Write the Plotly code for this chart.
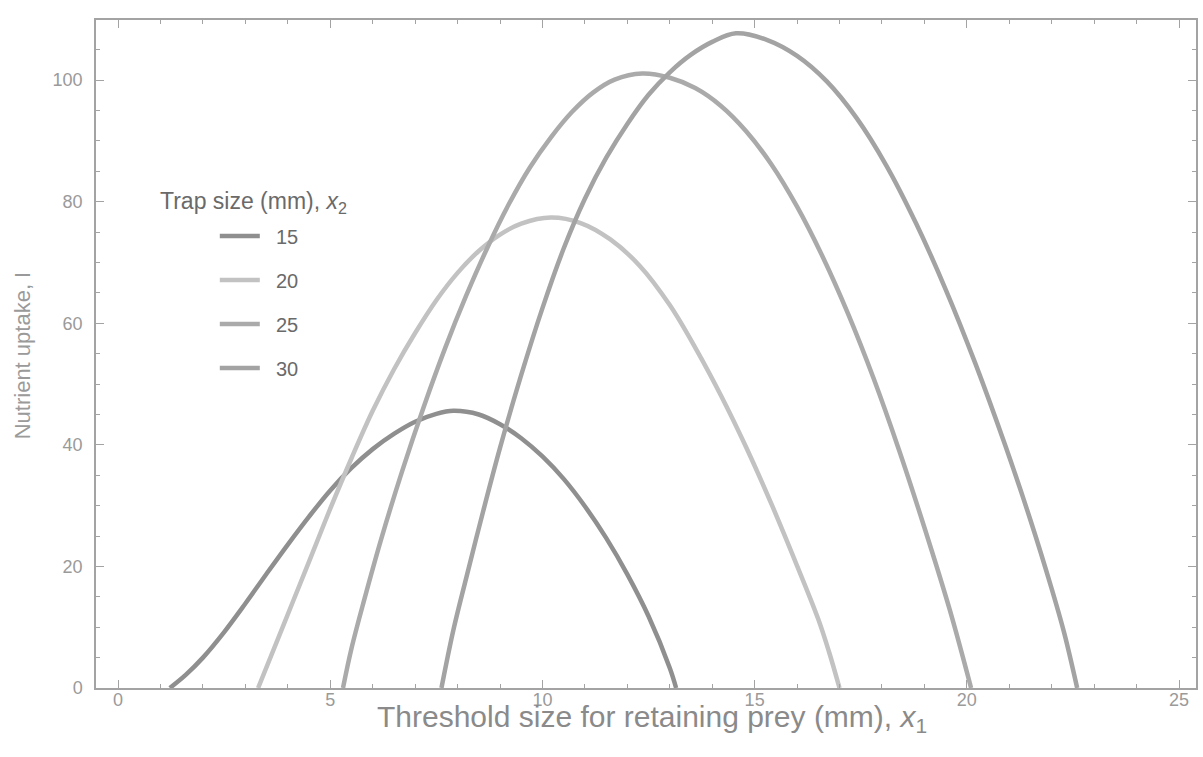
import plotly.graph_objects as go

# Threshold size x1 (mm) and nutrient uptake I, per trap size x2 (mm)
trap_sizes = ["15", "20", "25", "30"]

x15 = [1.22, 1.6, 2.0, 2.5, 3.0, 3.5, 4.0, 4.5, 5.0, 5.5, 6.0, 6.5, 7.0, 7.5, 7.9,
       8.5, 9.0, 9.5, 10.0, 10.5, 11.0, 11.5, 12.0, 12.5, 13.0, 13.15]
y15 = [0, 2.2, 5.0, 9.2, 13.9, 18.8, 23.6, 28.2, 32.5, 36.2, 39.3, 41.8, 43.8, 45.1, 45.6,
       45.0, 43.4, 41.1, 38.1, 34.4, 29.9, 24.7, 18.7, 11.8, 3.3, 0]

x20 = [3.3, 3.9, 4.5, 5.0, 5.5, 6.0, 6.5, 7.0, 7.5, 8.0, 8.5, 9.0, 9.5, 10.2,
       10.9, 11.6, 12.3, 13.0, 13.6, 14.2, 14.8, 15.4, 16.0, 16.5, 16.75, 17.0]
y20 = [0, 10.4, 20.8, 29.5, 37.8, 45.6, 52.4, 58.4, 63.8, 68.3, 71.9, 74.6, 76.4, 77.4,
       76.5, 73.8, 69.4, 63.0, 56.0, 48.2, 39.6, 30.2, 20.1, 11.3, 6.0, 0]

x25 = [5.3, 5.5, 5.8, 6.2, 6.7, 7.2, 7.7, 8.2, 8.7, 9.2, 9.7, 10.2, 10.7, 11.2, 11.7, 12.35,
       13.0, 13.6, 14.2, 14.8, 15.4, 16.0, 16.6, 17.2, 17.8, 18.4, 19.0, 19.6, 20.1]
y25 = [0, 6.5, 14.5, 24.5, 35.8, 46.2, 55.8, 64.5, 72.4, 79.5, 85.6, 90.6, 94.8, 98.0, 100.1, 101.1,
       100.4, 98.7, 95.8, 91.6, 86.1, 79.2, 71.0, 61.6, 51.0, 39.2, 26.4, 12.8, 0]

x30 = [7.62, 7.9, 8.2, 8.6, 9.0, 9.5, 10.0, 10.5, 11.0, 11.5, 12.0, 12.5, 13.0, 13.5, 14.0, 14.56,
       15.3, 16.0, 16.7, 17.4, 18.1, 18.8, 19.5, 20.2, 20.9, 21.5, 22.0, 22.3, 22.6]
y30 = [0, 9.5, 18.0, 29.0, 39.5, 51.5, 62.5, 72.3, 80.5, 87.2, 92.8, 97.6, 101.3, 104.2, 106.3, 107.7,
       106.6, 104.0, 99.8, 93.8, 86.0, 76.5, 65.6, 53.4, 40.0, 27.6, 16.3, 8.9, 0]

xs = [x15, x20, x25, x30]
ys = [y15, y20, y25, y30]
colors = ["#8f8f8f", "#c2c2c2", "#aaaaaa", "#a3a3a3"]

x_ticks = [0, 5, 10, 15, 20, 25]
y_ticks = [0, 20, 40, 60, 80, 100]

fig = go.Figure()
for name, x, y, c in zip(trap_sizes, xs, ys, colors):
    fig.add_trace(go.Scatter(
        x=x, y=y, mode="lines", name="\u00a0\u00a0" + name, legendgroup=name,
        line=dict(color=c, width=4.5, shape="spline", smoothing=1.0),
    ))

axis_common = dict(
    showline=True, linecolor="#a3a3a3", linewidth=1.5, mirror="ticks",
    ticks="inside", ticklen=8, tickwidth=1.2, tickcolor="#a3a3a3",
    showgrid=False, zeroline=False,
    tickfont=dict(size=18, color="#9a9a9a"),
)
minor_common = dict(ticks="inside", ticklen=4, tickcolor="#a3a3a3", showgrid=False)

fig.update_xaxes(range=[-0.52, 25.4], tickvals=x_ticks, ticklabelstandoff=-5,
                 minor=dict(minor_common, dtick=1, tick0=0), **axis_common)
fig.update_yaxes(range=[0, 109.9], tickvals=y_ticks, ticklabelstandoff=8,
                 minor=dict(minor_common, dtick=5, tick0=0), **axis_common)

fig.update_layout(
    width=1203, height=757,
    margin=dict(l=96, r=5, t=20, b=69),
    paper_bgcolor="white", plot_bgcolor="white",
    font=dict(family="Liberation Sans, Arial, sans-serif", color="#999"),
    showlegend=True,
    legend=dict(
        x=0.108, y=0.706, xanchor="left", yanchor="top",
        bgcolor="rgba(0,0,0,0)", font=dict(size=20, color="#6a6a6a"),
        traceorder="grouped", tracegroupgap=15, itemwidth=40,
    ),
    annotations=[
        dict(text="Trap size (mm), <i>x</i><sub>2</sub>", xref="paper", yref="paper",
             x=0.056, y=0.7275, xanchor="left", yanchor="middle", showarrow=False,
             font=dict(size=23, color="#6a6a6a")),
        dict(text="Threshold size for retaining prey (mm), <i>x</i><sub>1</sub>",
             xref="paper", yref="paper", x=0.505, y=-0.0464, xanchor="center",
             yanchor="middle", showarrow=False, font=dict(size=30, color="#8a8a8a")),
        dict(text="Nutrient uptake, I", xref="paper", yref="paper",
             x=-0.067, y=0.4985, xanchor="center", yanchor="middle", textangle=-90,
             showarrow=False, font=dict(size=22, color="#9a9a9a")),
    ],
)

fig.write_html("out.html")
